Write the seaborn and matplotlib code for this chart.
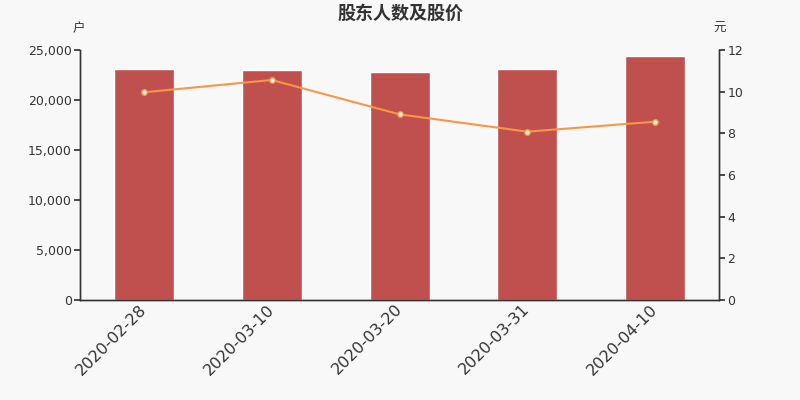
import matplotlib.pyplot as plt
import seaborn as sns
import pandas as pd

dates = ['2020-02-28', '2020-03-10', '2020-03-20', '2020-03-31', '2020-04-10']
holders = [23100, 23030, 22800, 23130, 24400]
price = [9.97, 10.56, 8.91, 8.08, 8.56]

df = pd.DataFrame({'date': dates, 'holders': holders, 'price': price})

sns.set_theme(style='white')
plt.rcParams['font.family'] = ['DejaVu Sans', 'Noto Sans CJK SC']
plt.rcParams['axes.unicode_minus'] = False

bg = '#f8f8f8'
fig = plt.figure(figsize=(8, 4), dpi=100, facecolor=bg)
ax = fig.add_axes([0.1, 0.25, 0.799, 0.625])
ax.set_facecolor(bg)

sns.barplot(data=df, x='date', y='holders', color='#c0504d', saturation=1,
            width=0.47, ax=ax)
ax.set_ylim(0, 25000)
ax.set_xlim(-0.5, 4.5)
ax.set_yticks(range(0, 25001, 5000))
ax.set_yticklabels([f'{v:,}' for v in range(0, 25001, 5000)], fontsize=9, color='#333333')
ax.set_xlabel('')
ax.set_ylabel('')
ax.set_xticks(range(5))
ax.set_xticklabels(dates, rotation=45, ha='right', va='center', rotation_mode='anchor',
                   fontsize=11.5, color='#333333')
ax.set_xticks([i - 0.5 for i in range(6)], minor=True)
ax.tick_params(axis='x', which='major', length=0, pad=5)
ax.tick_params(axis='x', which='minor', length=5, color='#333333', direction='out')
ax.tick_params(axis='y', length=4, color='#333333', direction='out', pad=2)

ax2 = ax.twinx()
sns.lineplot(data=df, x='date', y='price', color='#f79646', linewidth=1.5,
             marker='o', markersize=4, markerfacecolor='white',
             markeredgecolor='#f79646', markeredgewidth=1, ax=ax2)
ax2.set_ylim(0, 12)
ax2.set_yticks(range(0, 13, 2))
ax2.set_yticklabels([str(v) for v in range(0, 13, 2)], fontsize=9, color='#333333')
ax2.set_ylabel('')
ax2.set_xlabel('')
ax2.tick_params(axis='y', length=4, color='#333333', direction='out', pad=2)

for a in (ax, ax2):
    a.spines['top'].set_visible(False)
    for s in ['left', 'right', 'bottom']:
        a.spines[s].set_color('#333333')
        a.spines[s].set_linewidth(1)

cjk = ['Noto Sans CJK SC', 'DejaVu Sans']
fig.text(0.5, 0.967, '股东人数及股价', ha='center', va='center', fontsize=13,
         fontweight='bold', color='#333333', family=cjk)
fig.text(0.098, 0.928, '户', ha='center', va='center', fontsize=9, color='#333333', family=cjk)
fig.text(0.899, 0.928, '元', ha='center', va='center', fontsize=9, color='#333333', family=cjk)

fig.savefig('out.png', facecolor=bg)
